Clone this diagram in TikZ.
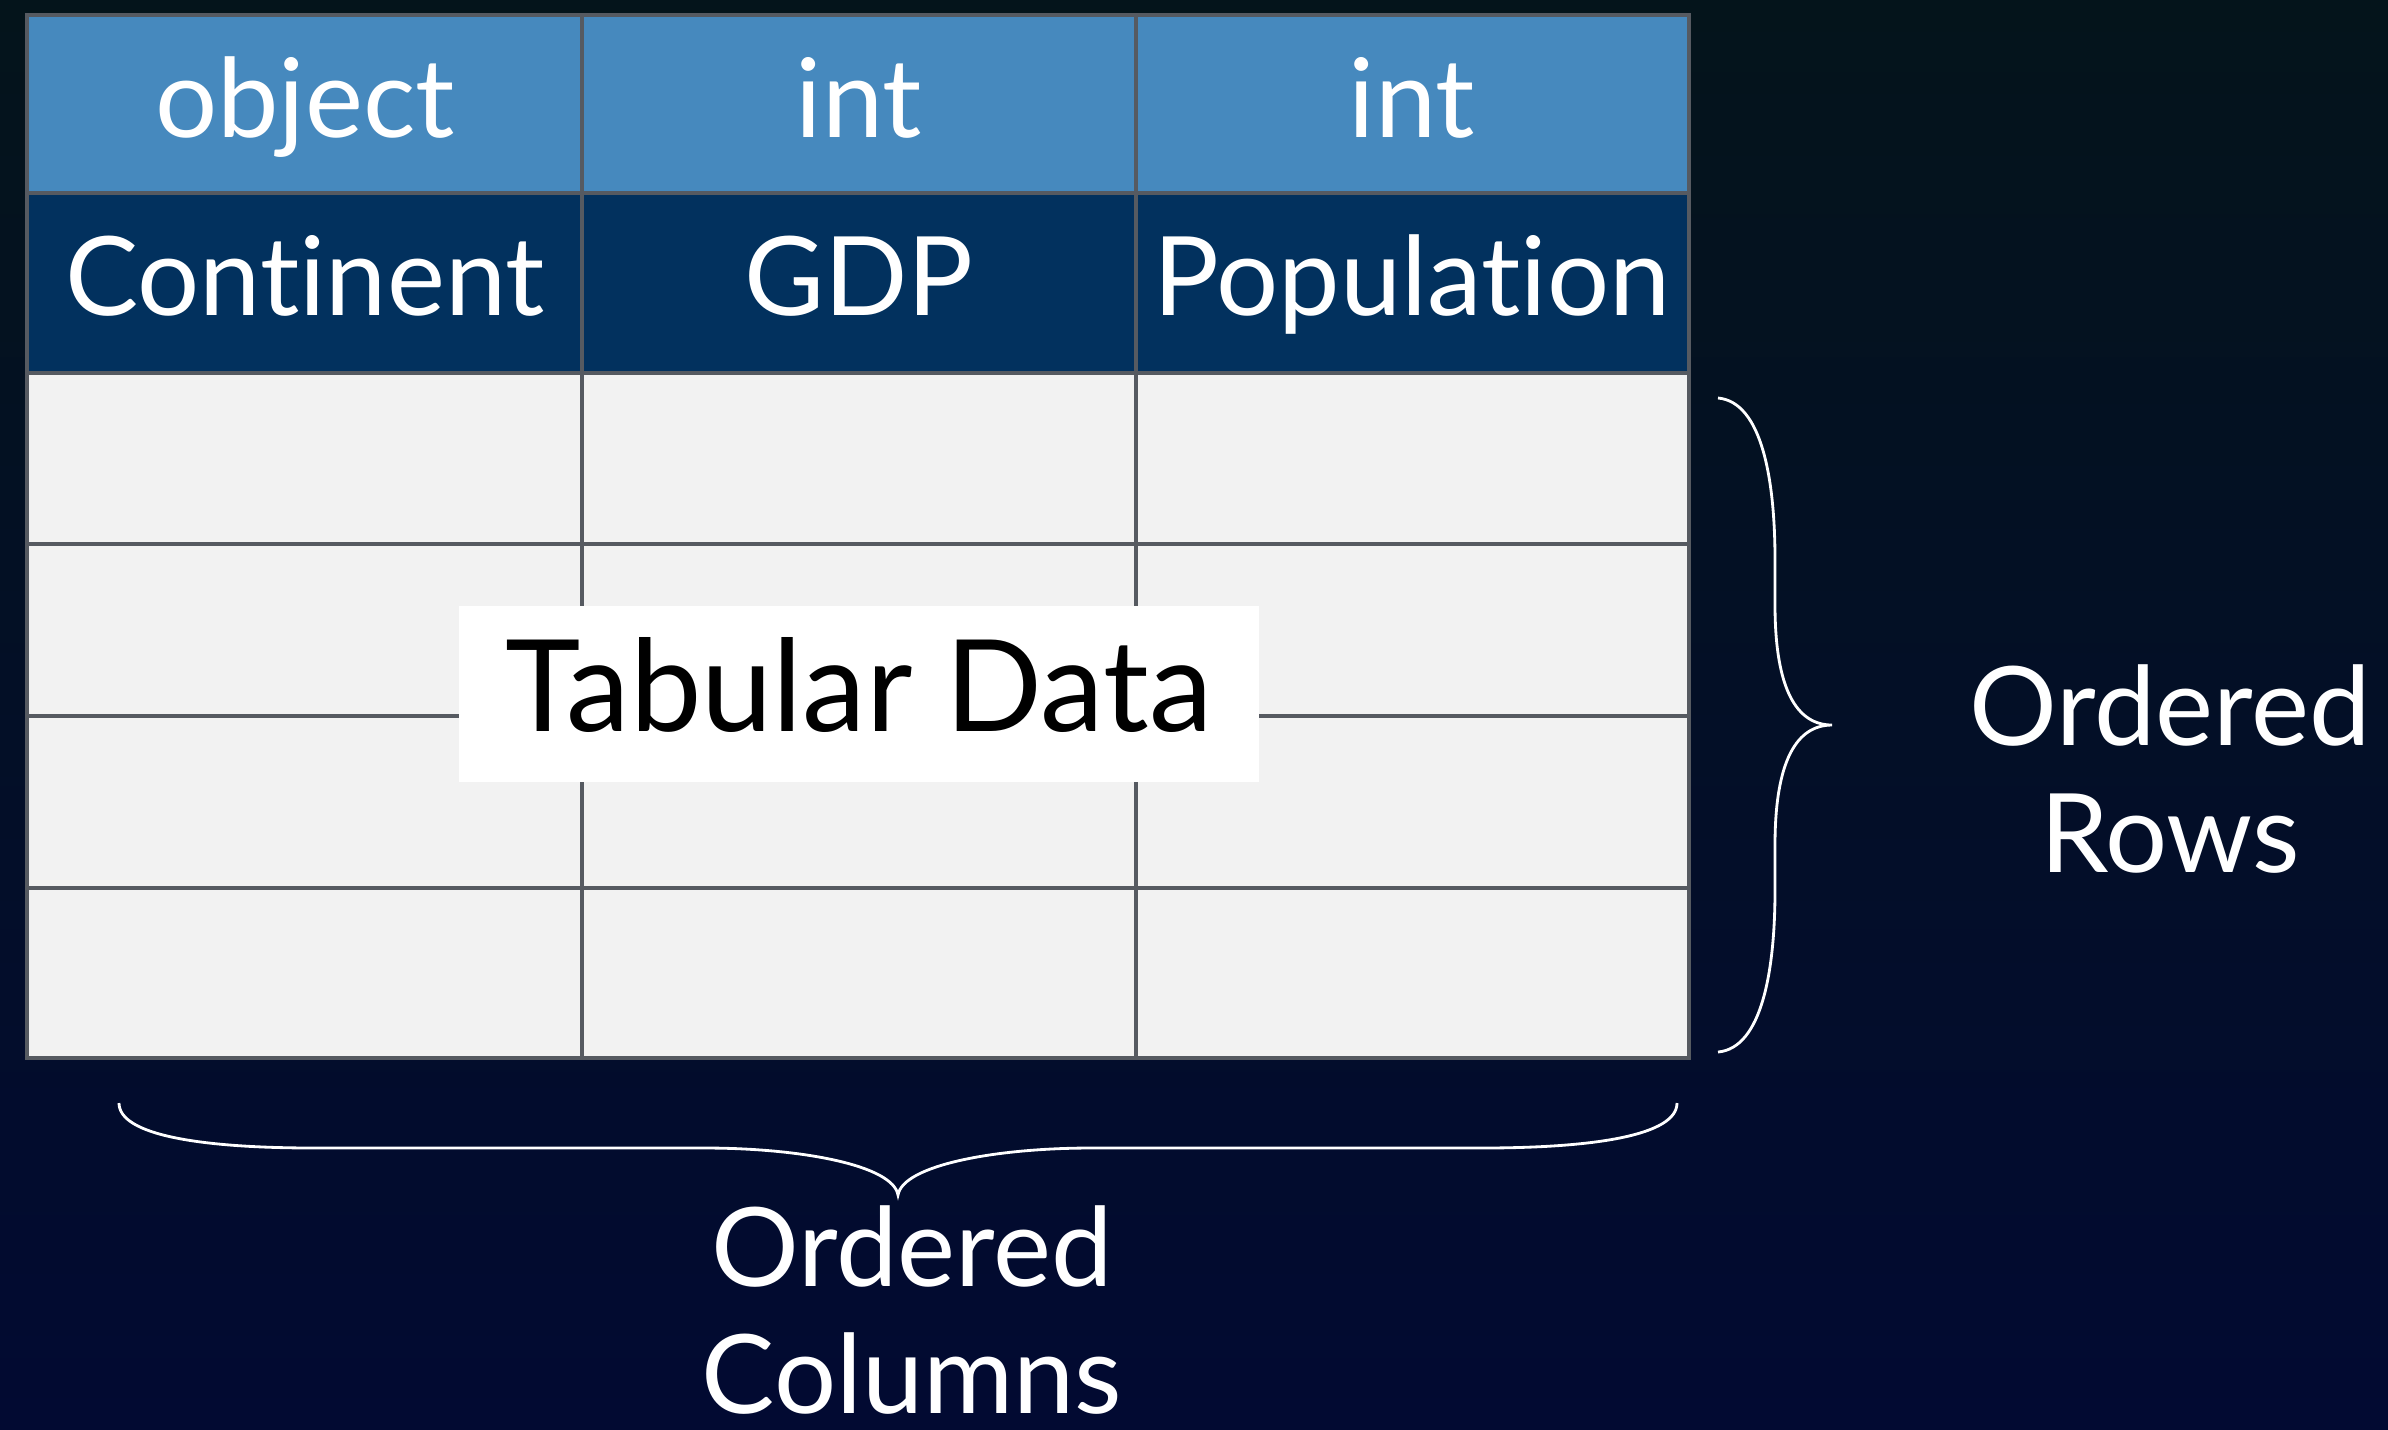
\documentclass[tikz,border=0pt]{standalone}
\usepackage{fontspec}
\setmainfont{Lato}[Ligatures=NoCommon]
\usepackage{tikz}
\usetikzlibrary{positioning}

\definecolor{typeblue}{RGB}{70,137,190}
\definecolor{nameblue}{RGB}{2,49,94}
\definecolor{cellgray}{RGB}{242,242,242}
\definecolor{gridgray}{RGB}{86,90,97}
\definecolor{bgtop}{RGB}{4,20,27}
\definecolor{bgbottom}{RGB}{2,10,50}

\begin{document}
\begin{tikzpicture}[x=0.01cm, y=-0.01cm,
    cell/.style={draw=gridgray, line width=1.4pt},
    headtext/.style={text=white, anchor=base, font=\fontsize{31.2}{36}\selectfont},
    sidetext/.style={text=white, align=center, inner sep=0pt, font=\fontsize{31.2}{36.2}\selectfont},
    bracecurve/.style={draw=white, line width=0.8pt}]
    % 背景
    \shade[top color=bgtop, bottom color=bgbottom] (0,0) rectangle (2388,1429);
    \useasboundingbox (0,0) rectangle (2388,1429);

    % 表格单元格
    \foreach \ya/\yb/\c in {15/193/typeblue, 193/373/nameblue, 373/544/cellgray,
                            544/716/cellgray, 716/888/cellgray, 888/1058/cellgray}
    {
        \foreach \xa/\xb in {27/582, 582/1136, 1136/1689}
            \filldraw[cell, fill=\c] (\xa,\ya) rectangle (\xb,\yb);
    }

    % 类型行
    \node[headtext] (type1) at (305,137) {object};
    \node[headtext] (type2) at (859,137) {int};
    \node[headtext] (type3) at (1412,137) {int};

    % 列名行
    \node[headtext] (name1) at (305,315) {Continent};
    \node[headtext] (name2) at (859,315) {GDP};
    \node[headtext] (name3) at (1412,315) {Population};

    % 中间标签
    \node[fill=white, text=black, minimum width=8cm, minimum height=1.75cm,
          text depth=0.2cm, font=\fontsize{36.3}{40}\selectfont]
        (tabular) at (859,694) {Tabular Data};

    % 右侧括号：行
    \draw[bracecurve] (1718,398) .. controls (1762,402) and (1775,480) .. (1775,560)
        -- (1775,605) .. controls (1775,690) and (1797,725) .. (1832,725)
        .. controls (1797,725) and (1775,760) .. (1775,845)
        -- (1775,890) .. controls (1775,970) and (1762,1048) .. (1718,1052);
    \node[sidetext] (rows) at (2170,769) {Ordered\\Rows};

    % 下方括号：列
    \draw[bracecurve] (119,1103) .. controls (119,1135) and (200,1148) .. (315,1148)
        -- (705,1148) .. controls (800,1148) and (893,1165) .. (898,1195)
        .. controls (903,1165) and (996,1148) .. (1091,1148)
        -- (1481,1148) .. controls (1596,1148) and (1677,1135) .. (1677,1103);
    \node[sidetext] (cols) at (912,1310) {Ordered\\Columns};
\end{tikzpicture}
\end{document}
